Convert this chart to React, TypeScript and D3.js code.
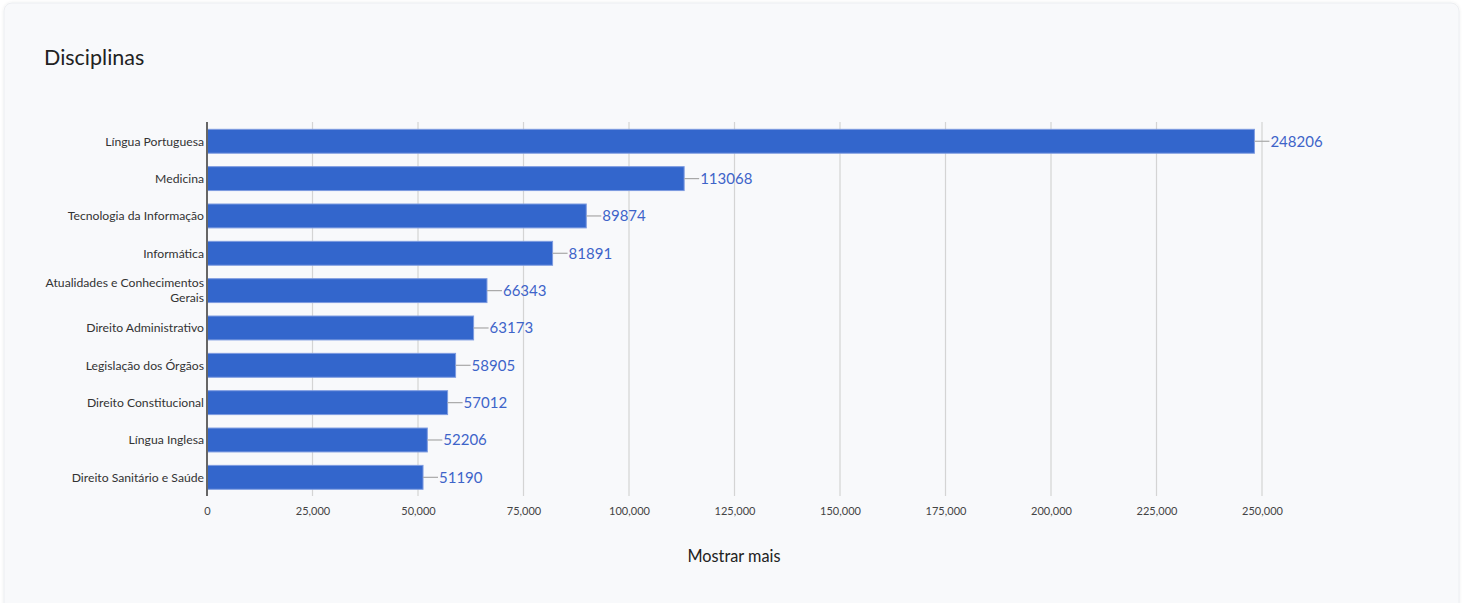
import React, { useRef, useEffect } from "react";
import * as d3 from "d3";

const categories = [
  "Língua Portuguesa",
  "Medicina",
  "Tecnologia da Informação",
  "Informática",
  "Atualidades e Conhecimentos Gerais",
  "Direito Administrativo",
  "Legislação dos Órgãos",
  "Direito Constitucional",
  "Língua Inglesa",
  "Direito Sanitário e Saúde",
];
const values = [248206, 113068, 89874, 81891, 66343, 63173, 58905, 57012, 52206, 51190];
const xTicks = [0, 25000, 50000, 75000, 100000, 125000, 150000, 175000, 200000, 225000, 250000];

const FONT = "Lato, 'Open Sans', sans-serif";

const dimensions = {
  width: 1462,
  height: 603,
  plotLeft: 207,
  plotRight: 1262,
  plotTop: 122.6,
  plotBottom: 496,
};

const xScale = d3.scaleLinear().domain([0, 250000]).range([dimensions.plotLeft, dimensions.plotRight]);
const yScale = d3
  .scaleBand<string>()
  .domain(categories)
  .range([dimensions.plotTop, dimensions.plotBottom])
  .paddingInner(0.36)
  .paddingOuter(0.18);

export default function App() {
  const svgRef = useRef<SVGSVGElement>(null);

  useEffect(() => {
    document.body.style.margin = "0";
    if (!svgRef.current) return;
    const svg = d3.select(svgRef.current);
    svg.selectAll("*").remove();

    const defs = svg.append("defs");
    const shadow = defs.append("filter").attr("id", "card-shadow").attr("x", "-5%").attr("y", "-5%").attr("width", "110%").attr("height", "110%");
    shadow.append("feDropShadow").attr("dx", 0).attr("dy", 0).attr("stdDeviation", 1.5).attr("flood-color", "#000").attr("flood-opacity", 0.08);

    // card
    svg.append("rect")
      .attr("x", 4).attr("y", 3)
      .attr("width", 1455).attr("height", 640)
      .attr("rx", 8)
      .attr("fill", "#f8f9fb")
      .attr("stroke", "#eceef1")
      .attr("filter", "url(#card-shadow)");

    svg.append("text")
      .attr("x", 44).attr("y", 65)
      .attr("font-family", FONT).attr("font-size", 21.5)
      .attr("fill", "#222")
      .text("Disciplinas");

    const grid = svg.append("g");
    grid.selectAll("line").data(xTicks.slice(1)).join("line")
      .attr("x1", (d) => xScale(d)).attr("x2", (d) => xScale(d))
      .attr("y1", dimensions.plotTop - 0.6).attr("y2", dimensions.plotBottom)
      .attr("stroke", "#d4d4d4").attr("stroke-width", 1.2);

    // x axis labels
    const xAxis = svg.append("g").attr("transform", `translate(0, ${dimensions.plotBottom})`);
    xAxis.call(
      d3.axisBottom(xScale).tickValues(xTicks).tickSize(0).tickPadding(11).tickFormat(d3.format(",") as any)
    );
    xAxis.select(".domain").remove();
    xAxis.selectAll("text").attr("font-family", FONT).attr("font-size", 11).attr("fill", "#444");

    // bars
    svg.append("g").selectAll("rect").data(values).join("rect")
      .attr("x", xScale(0))
      .attr("y", (_, i) => yScale(categories[i])!)
      .attr("width", (d) => xScale(d) - xScale(0))
      .attr("height", yScale.bandwidth())
      .attr("fill", "#3366cc")
      .attr("stroke", "#7d9be0")
      .attr("stroke-width", 1);

    // connectors + value labels
    const labels = svg.append("g");
    values.forEach((v, i) => {
      const cy = yScale(categories[i])! + yScale.bandwidth() / 2;
      labels.append("line")
        .attr("x1", xScale(v)).attr("x2", xScale(v) + 15)
        .attr("y1", cy).attr("y2", cy)
        .attr("stroke", "#a8a8a8").attr("stroke-width", 1.2);
      labels.append("text")
        .attr("x", xScale(v) + 16).attr("y", cy)
        .attr("dy", "0.36em")
        .attr("font-family", FONT).attr("font-size", 15)
        .attr("fill", "#3e64c9")
        .text(String(v));
    });

    // y axis category labels (wrapped)
    const yLabels = svg.append("g");
    categories.forEach((c) => {
      const cy = yScale(c)! + yScale.bandwidth() / 2;
      const t = yLabels.append("text")
        .attr("x", dimensions.plotLeft - 3)
        .attr("text-anchor", "end")
        .attr("font-family", FONT).attr("font-size", 12.2)
        .attr("fill", "#333");
      const words = c.split(" ");
      const lines: string[] = [];
      let line: string[] = [];
      const probe = t.append("tspan");
      words.forEach((w) => {
        const attempt = [...line, w].join(" ");
        probe.text(attempt);
        if ((probe.node() as SVGTSpanElement).getComputedTextLength() > 165 && line.length) {
          lines.push(line.join(" "));
          line = [w];
        } else {
          line.push(w);
        }
      });
      lines.push(line.join(" "));
      probe.remove();
      const lh = 15;
      const start = cy - ((lines.length - 1) * lh) / 2;
      lines.forEach((l, k) => {
        t.append("tspan")
          .attr("x", dimensions.plotLeft - 3)
          .attr("y", start + k * lh)
          .attr("dy", "0.35em")
          .text(l);
      });
    });

    // y axis line
    svg.append("line")
      .attr("x1", dimensions.plotLeft).attr("x2", dimensions.plotLeft)
      .attr("y1", dimensions.plotTop - 0.6).attr("y2", dimensions.plotBottom)
      .attr("stroke", "#666").attr("stroke-width", 2);

    svg.append("text")
      .attr("x", 734).attr("y", 556)
      .attr("dy", "0.35em")
      .attr("text-anchor", "middle")
      .attr("font-family", FONT).attr("font-size", 16.3)
      .attr("fill", "#222")
      .text("Mostrar mais");
  }, []);

  return <svg ref={svgRef} width={dimensions.width} height={dimensions.height} style={{ display: "block" }} />;
}
